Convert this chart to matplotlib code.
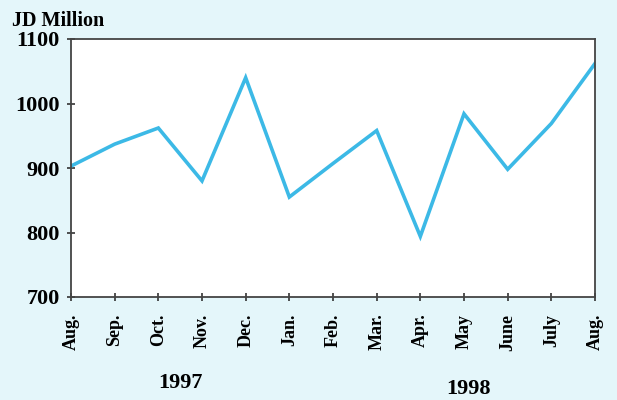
import matplotlib
matplotlib.use("Agg")
import matplotlib.pyplot as plt

# monthly values, Aug 1997 - Aug 1998 (JD Million)
months = ['Aug.', 'Sep.', 'Oct.', 'Nov.', 'Dec.', 'Jan.', 'Feb.', 'Mar.',
          'Apr.', 'May', 'June', 'July', 'Aug.']
values = [903, 937, 962, 880, 1040, 855, 907, 958, 794, 984, 898, 969, 1062]
yticks = [700, 800, 900, 1000, 1100]

plt.rcParams['font.family'] = ['Liberation Serif', 'DejaVu Serif']
plt.rcParams['font.weight'] = 'bold'

bg = '#e4f6fa'
fig = plt.figure(figsize=(6.17, 4.0), dpi=100, facecolor=bg)
ax = fig.add_axes([71/617, 1 - 297/400, 524/617, 258/400])
ax.set_facecolor('white')

x = list(range(len(months)))
ax.plot(x, values, color='#3cb9e6', lw=2.6, solid_joinstyle='miter')

ax.set_xlim(0, len(months) - 1)
ax.set_ylim(700, 1100)
ax.set_yticks(yticks)
ax.set_yticklabels([str(v) for v in yticks], fontsize=16, fontweight='bold')
ax.set_xticks(x)
ax.set_xticklabels(months, rotation=90, fontsize=13, fontweight='bold')
ax.tick_params(axis='both', direction='inout', length=6, width=1.2, color='#333333')
ax.tick_params(axis='y', pad=5)
ax.tick_params(axis='x', pad=9)
for s in ax.spines.values():
    s.set_color('#444444')
    s.set_linewidth(1.3)

fig.text(12/617, 1 - 21/400, 'JD Million', fontsize=14.5, fontweight='bold', va='center')
fig.text(180/617, 1 - 383/400, '1997', fontsize=16, fontweight='bold', ha='center', va='center')
fig.text(469/617, 1 - 389/400, '1998', fontsize=16, fontweight='bold', ha='center', va='center')

fig.savefig('out.png', dpi=100, facecolor=bg)
